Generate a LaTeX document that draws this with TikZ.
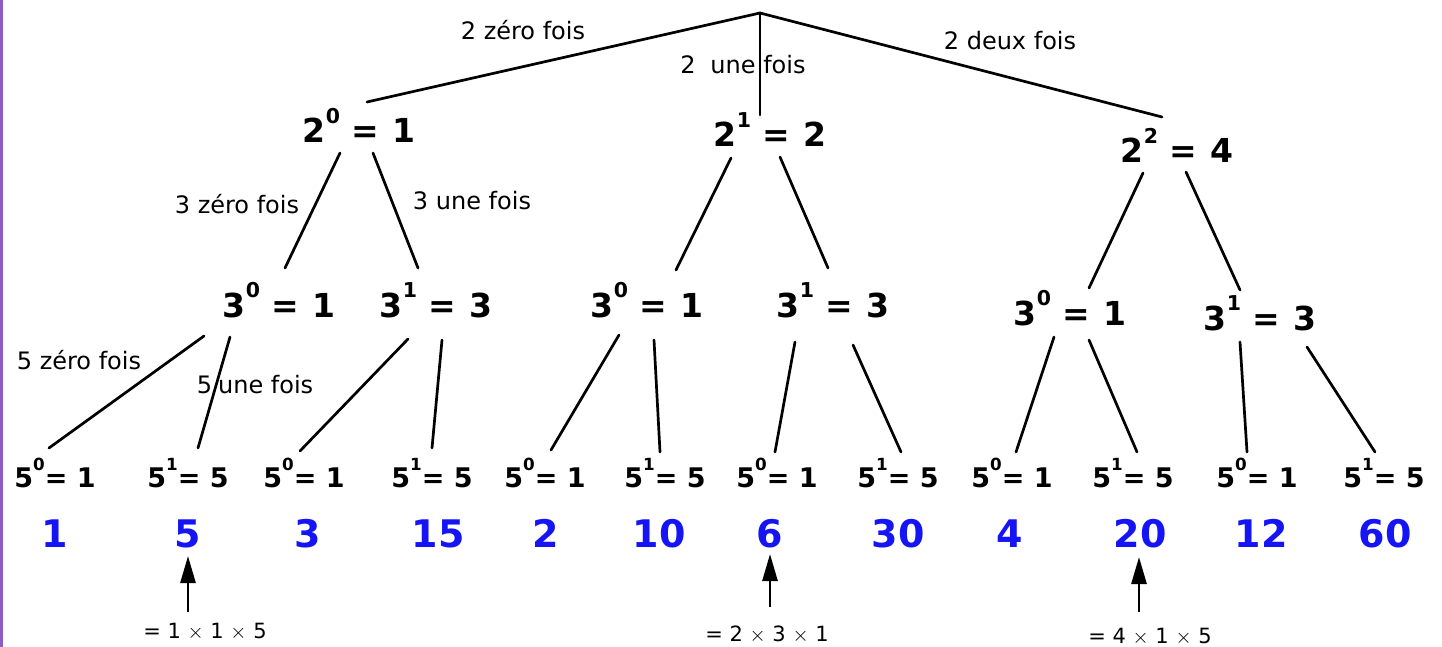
\documentclass[tikz,border=0pt]{standalone}
\usepackage{fontspec}
\setmainfont{DejaVu Sans}
\usetikzlibrary{calc,arrows.meta}
\newcommand\pw[1]{\raisebox{0.6em}{\scalebox{0.62}{#1}}}
\definecolor{numblue}{RGB}{20,20,245}
\definecolor{edgepurple}{RGB}{140,92,200}
\begin{document}
\begin{tikzpicture}[x=1pt,y=-1pt,
  edge/.style={line width=2.7pt,line cap=round},
  arr/.style={line width=2.7pt,-{Triangle[length=27pt,width=15pt]}},
  lvlone/.style={anchor=base,inner sep=0pt,font=\fontsize{33}{36}\selectfont\bfseries},
  lvltwo/.style={anchor=base,inner sep=0pt,font=\fontsize{33}{36}\selectfont\bfseries},
  lvlthree/.style={anchor=base,inner sep=0pt,font=\fontsize{27}{30}\selectfont\bfseries},
  result/.style={anchor=base,inner sep=0pt,text=numblue,font=\fontsize{38}{40}\selectfont\bfseries},
  lab/.style={anchor=base,inner sep=0pt,font=\fontsize{24}{26}\selectfont},
  capt/.style={anchor=base,inner sep=0pt,font=\fontsize{21}{23}\selectfont}]
\useasboundingbox (0,0) rectangle (1442,647);
\draw[edgepurple,line width=2.5pt] (1.25,0) -- (1.25,647);

% root
\coordinate (root) at (760,13);

% level 1
\node[lvlone] (n20) at (359,143) {2\pw{0}\hspace{0.34em}=\hspace{0.4em}1};
\node[lvlone] (n21) at (770,147) {2\pw{1}\hspace{0.34em}=\hspace{0.4em}2};
\node[lvlone] (n22) at (1177,163) {2\pw{2}\hspace{0.34em}=\hspace{0.4em}4};

% level 2
\node[lvltwo] (n30a) at (279,317) {3\pw{0}\hspace{0.34em}=\hspace{0.4em}1};
\node[lvltwo] (n31a) at (436,317) {3\pw{1}\hspace{0.34em}=\hspace{0.4em}3};
\node[lvltwo] (n30b) at (647,317) {3\pw{0}\hspace{0.34em}=\hspace{0.4em}1};
\node[lvltwo] (n31b) at (833,317) {3\pw{1}\hspace{0.34em}=\hspace{0.4em}3};
\node[lvltwo] (n30c) at (1070,325) {3\pw{0}\hspace{0.34em}=\hspace{0.4em}1};
\node[lvltwo] (n31c) at (1260,330) {3\pw{1}\hspace{0.34em}=\hspace{0.4em}3};

% level 3
\node[lvlthree] (l1)  at (55,487)   {5\pw{0}=\hspace{0.35em}1};
\node[lvlthree] (l2)  at (188,487)  {5\pw{1}=\hspace{0.35em}5};
\node[lvlthree] (l3)  at (304,487)  {5\pw{0}=\hspace{0.35em}1};
\node[lvlthree] (l4)  at (432,487)  {5\pw{1}=\hspace{0.35em}5};
\node[lvlthree] (l5)  at (545,487)  {5\pw{0}=\hspace{0.35em}1};
\node[lvlthree] (l6)  at (665,487)  {5\pw{1}=\hspace{0.35em}5};
\node[lvlthree] (l7)  at (777,487)  {5\pw{0}=\hspace{0.35em}1};
\node[lvlthree] (l8)  at (898,487)  {5\pw{1}=\hspace{0.35em}5};
\node[lvlthree] (l9)  at (1012,487) {5\pw{0}=\hspace{0.35em}1};
\node[lvlthree] (l10) at (1133,487) {5\pw{1}=\hspace{0.35em}5};
\node[lvlthree] (l11) at (1257,487) {5\pw{0}=\hspace{0.35em}1};
\node[lvlthree] (l12) at (1384,487) {5\pw{1}=\hspace{0.35em}5};

% results
\node[result] (b1)  at (55,547)   {1};
\node[result] (b2)  at (188,547)  {5};
\node[result] (b3)  at (308,547)  {3};
\node[result] (b4)  at (438,547)  {15};
\node[result] (b5)  at (546,547)  {2};
\node[result] (b6)  at (659,547)  {10};
\node[result] (b7)  at (770,547)  {6};
\node[result] (b8)  at (898,547)  {30};
\node[result] (b9)  at (1010,547) {4};
\node[result] (b10) at (1140,547) {20};
\node[result] (b11) at (1261,547) {12};
\node[result] (b12) at (1385,547) {60};

% captions
\node[capt] (c1) at (205,638) {= 1 $\times$ 1 $\times$ 5};
\node[capt] (c2) at (767,641) {= 2 $\times$ 3 $\times$ 1};
\node[capt] (c3) at (1150,643) {= 4 $\times$ 1 $\times$ 5};

% edge labels
\node[lab] (t1) at (523,40)  {2 zéro fois};
\node[lab] (t2) at (743,74)  {2\hspace{0.3em} une fois};
\node[lab] (t3) at (1010,50) {2 deux fois};
\node[lab] (t4) at (237,214) {3 zéro fois};
\node[lab] (t5) at (472,210) {3 une fois};
\node[lab] (t6) at (79,369)  {5 zéro fois};
\node[lab] (t7) at (255,393) {5\hspace{0.25em}une fois};

% root edges
\draw[edge] (root) -- ($(n20.base)+(8,-41)$);
\draw[edge] (root) -- ($(n21.base)+(-10,-32)$);
\draw[edge] (root) -- ($(n22.base)+(-15,-46)$);

% level 1 -> level 2
\draw[edge] ($(n20.base)+(-19,10)$) -- ($(n30a.base)+(6,-49)$);
\draw[edge] ($(n20.base)+(14,10)$)  -- ($(n31a.base)+(-18,-49)$);
\draw[edge] ($(n21.base)+(-39,11)$) -- ($(n30b.base)+(29,-47)$);
\draw[edge] ($(n21.base)+(10,10)$)  -- ($(n31b.base)+(-5,-49)$);
\draw[edge] ($(n22.base)+(-34,10)$) -- ($(n30c.base)+(19,-37)$);
\draw[edge] ($(n22.base)+(9,9)$)    -- ($(n31c.base)+(-20,-40)$);

% level 2 -> level 3
\draw[edge] ($(n30a.base)+(-75,19)$) -- ($(l1.base)+(-6,-39)$);
\draw[edge] ($(n30a.base)+(-49,20)$) -- ($(l2.base)+(10,-39)$);
\draw[edge] ($(n31a.base)+(-28,22)$) -- ($(l3.base)+(-4,-36)$);
\draw[edge] ($(n31a.base)+(6,23)$)   -- ($(l4.base)+(0,-39)$);
\draw[edge] ($(n30b.base)+(-28,18)$) -- ($(l5.base)+(6,-37)$);
\draw[edge] ($(n30b.base)+(7,23)$)   -- ($(l6.base)+(-5,-35)$);
\draw[edge] ($(n31b.base)+(-38,25)$) -- ($(l7.base)+(-2,-35)$);
\draw[edge] ($(n31b.base)+(20,28)$)  -- ($(l8.base)+(3,-35)$);
\draw[edge] ($(n30c.base)+(-16,12)$) -- ($(l9.base)+(4,-35)$);
\draw[edge] ($(n30c.base)+(19,15)$)  -- ($(l10.base)+(4,-35)$);
\draw[edge] ($(n31c.base)+(-20,12)$) -- ($(l11.base)+(-10,-35)$);
\draw[edge] ($(n31c.base)+(47,17)$)  -- ($(l12.base)+(-9,-35)$);

% arrows
\draw[arr] ($(c1.base)+(-17,-26)$) -- ($(b2.base)+(0,9)$);
\draw[arr] ($(c2.base)+(3,-34)$)   -- ($(b7.base)+(0,7)$);
\draw[arr] ($(c3.base)+(-11,-31)$) -- ($(b10.base)+(-1,10)$);
\end{tikzpicture}
\end{document}
